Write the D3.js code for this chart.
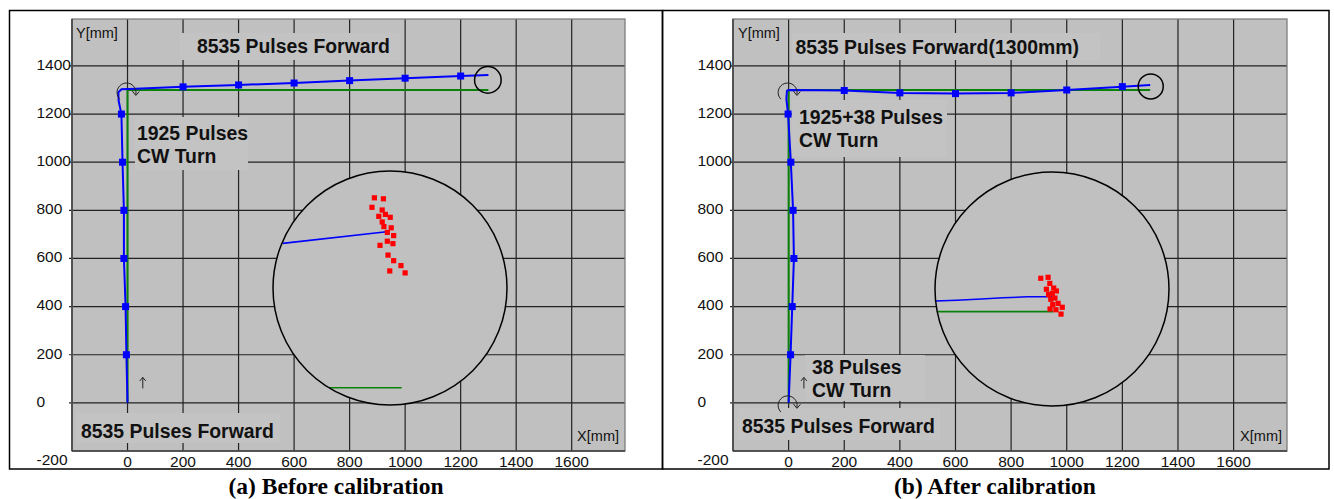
<!DOCTYPE html>
<html><head><meta charset="utf-8">
<script src="https://cdn.jsdelivr.net/npm/d3@7"></script>
<style>body{margin:0;background:#fff}</style>
</head><body><svg id="c" width="1334" height="499"></svg>
<script>
// ---------------- data ----------------
const xTicks = [0, 200, 400, 600, 800, 1000, 1200, 1400, 1600];
const xTickLabels = ["0", "200", "400", "600", "800", "1000", "1200", "1400", "1600"];
const yTicks = [-200, 0, 200, 400, 600, 800, 1000, 1200, 1400];
const yTickLabels = ["-200", "0", "200", "400", "600", "800", "1000", "1200", "1400"];

// desired (green) path, mm
const desiredX = [0, 0, 1300];
const desiredY = [0, 1300, 1300];

// measured (blue) path before calibration, mm
const beforePathX = [0, -4, -7, -13, -13, -18, -22, -32, -33, -22, 30, 200, 400, 600, 800, 1000, 1200, 1300];
const beforePathY = [0, 200, 400, 600, 800, 1000, 1200, 1255, 1290, 1303, 1305, 1313, 1321, 1329, 1339, 1349, 1358, 1362];
const beforeMarkX = [-4, -7, -13, -13, -18, -22, 200, 400, 600, 800, 1000, 1200];
const beforeMarkY = [200, 400, 600, 800, 1000, 1200, 1313, 1321, 1329, 1339, 1349, 1358];
const beforeTarget = [1298, 1342];

// measured (blue) path after calibration, mm
const afterPathX = [0, 7, 13, 19, 16, 8, -2, -8, -6, 2, 200, 400, 600, 800, 1000, 1200, 1300];
const afterPathY = [0, 200, 400, 600, 800, 1000, 1200, 1262, 1297, 1300, 1298, 1288, 1285, 1288, 1300, 1314, 1321];
const afterMarkX = [7, 13, 19, 16, 8, -2, 200, 400, 600, 800, 1000, 1200];
const afterMarkY = [200, 400, 600, 800, 1000, 1200, 1298, 1288, 1285, 1288, 1300, 1314];
const afterTarget = [1302, 1315];

// magnified end region (offsets in mm from the circled end point)
const beforeInsetBlueX = [-44, -1.4];
const beforeInsetBlueY = [18.3, 23.1];
const beforeInsetGreenX = [-25.3, 4.8];
const beforeInsetGreenY = [-40.9, -40.9];
const beforeEndX = [-6.4, -2.7, -7.4, -3.2, -1.9, -4.6, 0.1, -3.2, -2.5, 0.5, -1.1, 1.5, -1.1, 1.2, -4.1, -0.8, 1.5, 4.5, -0.1, 6.2];
const beforeEndY = [37.0, 36.6, 33.1, 32.0, 30.2, 29.4, 29.0, 27.1, 25.2, 24.7, 22.8, 21.5, 19.2, 18.2, 17.5, 13.5, 11.2, 9.2, 7.0, 6.2];

const afterInsetBlueX = [-48, -39, -29, -20, -10, 0];
const afterInsetBlueY = [-4.9, -4.6, -4.1, -3.6, -3.2, -3.2];
const afterInsetGreenX = [-47.3, 0.5];
const afterInsetGreenY = [-9.3, -9.3];
const afterEndX = [-4.6, -1.6, -0.9, -2.3, 0.7, 1.8, 0.1, -1.4, 1.2, -0.5, 2.5, 0.3, 4.2, -0.8, 1.6, 3.7];
const afterEndY = [4.4, 4.8, 2.3, -0.1, 0.4, -0.8, -1.8, -2.3, -3.7, -4.2, -5.9, -6.4, -7.5, -8.2, -8.5, -10.3];

// ---------------- layout ----------------
const svg = d3.select("#c");
const zip = (a, b) => a.map((v, i) => [v, b[i]]);

const panels = [
  {
    frame: [9.5, 10.5, 653, 458.5],
    plot: [72, 19, 625, 451],
    pathX: beforePathX, pathY: beforePathY, markX: beforeMarkX, markY: beforeMarkY,
    target: beforeTarget, targetR: 13.3,
    inset: {cx: 390, cy: 288, r: 117, blueX: beforeInsetBlueX, blueY: beforeInsetBlueY,
            greenX: beforeInsetGreenX, greenY: beforeInsetGreenY, endX: beforeEndX, endY: beforeEndY},
    turns: [[0, 1300]],
    upArrow: [55, 60],
    boxes: [[180, 33, 220, 27], [135, 117, 113, 53], [76, 413, 204, 30]],
    texts: [
      {t: "8535 Pulses Forward", x: 197, y: 52.5},
      {t: "1925 Pulses", x: 137, y: 139.5},
      {t: "CW Turn", x: 137, y: 162.5},
      {t: "8535 Pulses Forward", x: 81, y: 437.5}
    ],
    yLab: [76, 38], xLab: [619, 441],
    caption: {t: "(a) Before calibration", x: 336}
  },
  {
    frame: [662.5, 10.5, 666.5, 458.5],
    plot: [733, 19, 1287, 451],
    pathX: afterPathX, pathY: afterPathY, markX: afterMarkX, markY: afterMarkY,
    target: afterTarget, targetR: 12.5,
    inset: {cx: 1052, cy: 289, r: 117, blueX: afterInsetBlueX, blueY: afterInsetBlueY,
            greenX: afterInsetGreenX, greenY: afterInsetGreenY, endX: afterEndX, endY: afterEndY},
    turns: [[0, 1300], [0, 0]],
    upArrow: [55, 60],
    boxes: [[792, 33, 308, 27], [792, 100, 155, 57], [805, 355, 120, 46], [738, 408, 202, 32]],
    texts: [
      {t: "8535 Pulses Forward(1300mm)", x: 795.5, y: 54},
      {t: "1925+38 Pulses", x: 799, y: 124},
      {t: "CW Turn", x: 799, y: 146.5},
      {t: "38 Pulses", x: 812, y: 374},
      {t: "CW Turn", x: 812, y: 397},
      {t: "8535 Pulses Forward", x: 742, y: 432.5}
    ],
    yLab: [738, 38], xLab: [1282, 441],
    caption: {t: "(b) After calibration", x: 995}
  }
];

const PLOT_BG = "#c0c0c0", BOX_BG = "#c3c3c3", GRID = "#222";
const SANS = "Arial, 'Liberation Sans', sans-serif";

panels.forEach((p, pi) => {
  const [x0, y0, x1, y1] = p.plot;
  const x = d3.scaleLinear().domain([-200, 1792]).range([x0, x1]);
  const y = d3.scaleLinear().domain([-200, 1595]).range([y1, y0]);
  const g = svg.append("g");

  // outer frame
  g.append("rect").attr("x", p.frame[0]).attr("y", p.frame[1]).attr("width", p.frame[2]).attr("height", p.frame[3])
    .attr("fill", "none").attr("stroke", "#000").attr("stroke-width", 1.5);

  // plot background
  g.append("rect").attr("x", x0).attr("y", y0).attr("width", x1 - x0).attr("height", y1 - y0).attr("fill", PLOT_BG);

  // grid
  g.selectAll(".vg").data(xTicks).join("line")
    .attr("x1", d => x(d)).attr("x2", d => x(d)).attr("y1", y0).attr("y2", y1)
    .attr("stroke", GRID).attr("stroke-width", 1.2);
  g.selectAll(".hg").data(yTicks.filter(d => d > -200)).join("line")
    .attr("x1", x0 - 3).attr("x2", x1).attr("y1", d => y(d)).attr("y2", d => y(d))
    .attr("stroke", GRID).attr("stroke-width", 1.2);

  // text boxes
  g.selectAll(".box").data(p.boxes).join("rect")
    .attr("x", d => d[0]).attr("y", d => d[1]).attr("width", d => d[2]).attr("height", d => d[3])
    .attr("fill", BOX_BG);

  // plot border
  g.append("rect").attr("x", x0).attr("y", y0).attr("width", x1 - x0).attr("height", y1 - y0)
    .attr("fill", "none").attr("stroke", "#7d7d7d").attr("stroke-width", 1.3);
  g.append("line").attr("x1", x0).attr("x2", x0).attr("y1", y0).attr("y2", y1)
    .attr("stroke", "#4a4a4a").attr("stroke-width", 1.8);
  g.append("line").attr("x1", x0).attr("x2", x1).attr("y1", y1).attr("y2", y1)
    .attr("stroke", "#3a3a3a").attr("stroke-width", 1.5);

  const line = d3.line().x(d => x(d[0])).y(d => y(d[1]));

  // desired path
  g.append("path").attr("d", line(zip(desiredX, desiredY)))
    .attr("fill", "none").attr("stroke", "#0a820a").attr("stroke-width", 2);
  // measured path
  g.append("path").attr("d", line(zip(p.pathX, p.pathY)))
    .attr("fill", "none").attr("stroke", "#0000ff").attr("stroke-width", 2);
  g.selectAll(".mk").data(zip(p.markX, p.markY)).join("rect")
    .attr("x", d => x(d[0]) - 3.5).attr("y", d => y(d[1]) - 3.5).attr("width", 7).attr("height", 7)
    .attr("fill", "#0000ff");

  // end circle
  g.append("circle").attr("cx", x(p.target[0])).attr("cy", y(p.target[1])).attr("r", p.targetR)
    .attr("fill", "none").attr("stroke", "#000").attr("stroke-width", 1.5);

  // CW turn symbols
  p.turns.forEach(t => {
    const cx = x(t[0]) - 1, cy = y(t[1]) + 2.5, r = 9.5;
    const a0 = 135 * Math.PI / 180, a1 = 12 * Math.PI / 180;
    const sx = cx + r * Math.cos(a0), sy = cy + r * Math.sin(a0);
    const ex = cx + r * Math.cos(a1), ey = cy + r * Math.sin(a1);
    g.append("path").attr("d", `M${sx},${sy} A${r},${r} 0 1 1 ${ex},${ey}`)
      .attr("fill", "none").attr("stroke", "#222").attr("stroke-width", 1);
    g.append("path").attr("d", `M${ex - 3.5},${ey - 3.5} L${ex},${ey + 1} L${ex + 3.5},${ey - 3}`)
      .attr("fill", "none").attr("stroke", "#222").attr("stroke-width", 1);
  });

  // small up arrow
  {
    const ax = x(p.upArrow[0]), ay = y(p.upArrow[1]);
    g.append("path").attr("d", `M${ax},${ay} L${ax},${ay - 11} M${ax - 3},${ay - 7.5} L${ax},${ay - 11} L${ax + 3},${ay - 7.5}`)
      .attr("fill", "none").attr("stroke", "#222").attr("stroke-width", 1);
  }

  // magnified inset
  const ins = p.inset;
  const k = ins.r / 48;
  const ix = d3.scaleLinear().domain([-48, 48]).range([ins.cx - 48 * k, ins.cx + 48 * k]);
  const iy = d3.scaleLinear().domain([-48, 48]).range([ins.cy + 48 * k, ins.cy - 48 * k]);
  const clipId = "clip" + pi;
  svg.append("clipPath").attr("id", clipId).append("circle")
    .attr("cx", ins.cx).attr("cy", ins.cy).attr("r", ins.r);
  g.append("circle").attr("cx", ins.cx).attr("cy", ins.cy).attr("r", ins.r).attr("fill", PLOT_BG);
  const ig = g.append("g").attr("clip-path", `url(#${clipId})`);
  const iline = d3.line().x(d => ix(d[0])).y(d => iy(d[1]));
  ig.append("path").attr("d", iline(zip(ins.greenX, ins.greenY)))
    .attr("fill", "none").attr("stroke", "#0a820a").attr("stroke-width", 1.6);
  ig.append("path").attr("d", iline(zip(ins.blueX, ins.blueY)))
    .attr("fill", "none").attr("stroke", "#0000ff").attr("stroke-width", 1.6);
  ig.selectAll(".red").data(zip(ins.endX, ins.endY)).join("rect")
    .attr("x", d => ix(d[0]) - 2.6).attr("y", d => iy(d[1]) - 2.6).attr("width", 5.2).attr("height", 5.2)
    .attr("fill", "#ff0000");
  g.append("circle").attr("cx", ins.cx).attr("cy", ins.cy).attr("r", ins.r)
    .attr("fill", "none").attr("stroke", "#000").attr("stroke-width", 1.5);

  // tick labels
  g.selectAll(".yl").data(yTicks).join("text")
    .attr("x", x0 - 35.5).attr("y", d => d === -200 ? y(d) + 14 : y(d) + 3.8)
    .attr("font-family", SANS).attr("font-size", 15.5).attr("fill", "#111")
    .text((d, i) => yTickLabels[i]);
  g.selectAll(".xl").data(xTicks).join("text")
    .attr("x", d => x(d)).attr("y", 467).attr("text-anchor", "middle")
    .attr("font-family", SANS).attr("font-size", 15.5).attr("fill", "#111")
    .text((d, i) => xTickLabels[i]);

  // axis labels
  g.append("text").attr("x", p.yLab[0]).attr("y", p.yLab[1]).attr("font-family", SANS).attr("font-size", 14.5)
    .attr("fill", "#111").text("Y[mm]");
  g.append("text").attr("x", p.xLab[0]).attr("y", p.xLab[1]).attr("text-anchor", "end").attr("font-family", SANS)
    .attr("font-size", 14.5).attr("fill", "#111").text("X[mm]");

  // annotations
  g.selectAll(".ann").data(p.texts).join("text")
    .attr("x", d => d.x).attr("y", d => d.y)
    .attr("font-family", SANS).attr("font-size", 19.4).attr("font-weight", "bold").attr("fill", "#111")
    .text(d => d.t);

  // caption
  g.append("text").attr("x", p.caption.x).attr("y", 493.5).attr("text-anchor", "middle")
    .attr("font-family", "'Times New Roman', 'Liberation Serif', serif").attr("font-size", 23.5)
    .attr("font-weight", "bold").attr("fill", "#000").text(p.caption.t);
});
</script>
</body></html>
